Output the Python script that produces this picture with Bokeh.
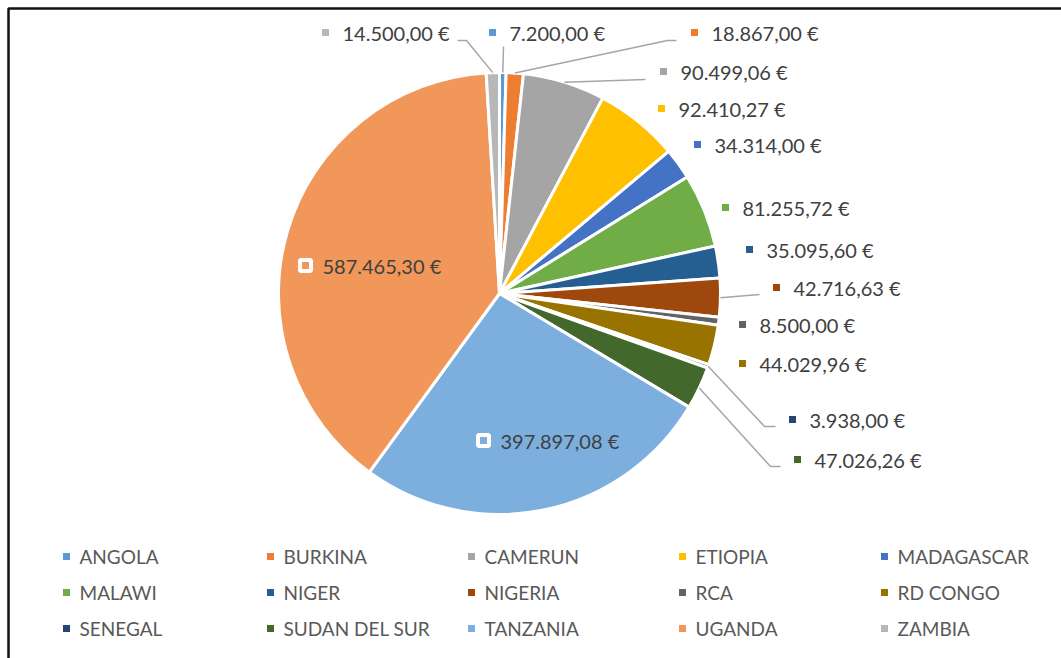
import math
from bokeh.plotting import figure
from bokeh.models import ColumnDataSource, Range1d
from bokeh.core.properties import value
from bokeh.embed import file_html
from bokeh.resources import INLINE

# ---------------- data ----------------
categories = ["ANGOLA", "BURKINA", "CAMERUN", "ETIOPIA", "MADAGASCAR",
              "MALAWI", "NIGER", "NIGERIA", "RCA", "RD CONGO",
              "SENEGAL", "SUDAN DEL SUR", "TANZANIA", "UGANDA", "ZAMBIA"]
amounts = [7200.00, 18867.00, 90499.06, 92410.27, 34314.00,
           81255.72, 35095.60, 42716.63, 8500.00, 44029.96,
           3938.00, 47026.26, 397897.08, 587465.30, 14500.00]
colors = ["#5B9BD5", "#ED7D31", "#A5A5A5", "#FFC000", "#4472C4",
          "#70AD47", "#255E91", "#9E480E", "#636363", "#997300",
          "#264478", "#43682B", "#7CAFDD", "#F1975A", "#B7B7B7"]

# ---------------- layout (canvas pixel coordinates, y downwards) ----------------
W, H = 1061, 658
CX, CY, R = 499, 293, 221
FRAME_X, FRAME_Y = 8, 8
label_pos = {
    "ZAMBIA": (325, 32), "ANGOLA": (492, 32), "BURKINA": (694, 32),
    "CAMERUN": (663, 71), "ETIOPIA": (661, 108), "MADAGASCAR": (697, 144),
    "MALAWI": (725, 207), "NIGER": (749, 249), "NIGERIA": (776, 287),
    "RCA": (742, 324), "RD CONGO": (742, 363), "SENEGAL": (792, 419),
    "SUDAN DEL SUR": (797, 459), "TANZANIA": (483, 440), "UGANDA": (305, 265),
}
leader_path = {
    "ZAMBIA": [(466, 40), (457, 40)],
    "ANGOLA": [(503, 46)],
    "BURKINA": [(667, 40), (676, 40)],
    "CAMERUN": [(645, 79)],
    "NIGERIA": [(759, 294)],
    "SENEGAL": [(764, 426), (775, 426)],
    "SUDAN DEL SUR": [(770, 466), (780, 466)],
}
legend_cols = [66, 270, 471, 682, 884]
legend_rows = [556, 592, 628]

def Y(y_img):
    return H - y_img

def fmt(v):
    s = f"{v:,.2f}"
    return s.replace(",", "X").replace(".", ",").replace("X", ".") + " €"

total = sum(amounts)
starts, ends, mids = [], [], []
cum = 0.0
for v in amounts:
    a0 = math.pi / 2 - 2 * math.pi * cum / total
    a1 = math.pi / 2 - 2 * math.pi * (cum + v) / total
    starts.append(a0)
    ends.append(a1)
    mids.append((a0 + a1) / 2)
    cum += v

p = figure(width=W, height=H, x_range=Range1d(0, W), y_range=Range1d(0, H),
           output_backend="svg", toolbar_location=None,
           x_axis_type=None, y_axis_type=None, min_border=0)
p.grid.visible = False
p.outline_line_color = None
p.background_fill_color = "white"
p.border_fill_color = "white"

# chart-area frame (top & left edges visible in the reference)
p.line(x=[FRAME_X, FRAME_X, W + 5], y=[Y(H + 5), Y(FRAME_Y), Y(FRAME_Y)],
       line_color="#111111", line_width=2.5)

pie = ColumnDataSource(dict(cat=categories, val=amounts, color=colors,
                            start=starts, end=ends,
                            x=[CX] * len(amounts), y=[Y(CY)] * len(amounts)))
p.wedge(x="x", y="y", radius=R, start_angle="start", end_angle="end",
        direction="clock", fill_color="color", line_color="white",
        line_width=3, source=pie)

# leader lines
lx, ly = [], []
for i, c in enumerate(categories):
    if c in leader_path:
        sx = CX + R * math.cos(mids[i])
        sy = Y(CY) + R * math.sin(mids[i])
        xs = [sx] + [pt[0] for pt in leader_path[c]]
        ys = [sy] + [Y(pt[1]) for pt in leader_path[c]]
        lx.append(xs)
        ly.append(ys)
p.multi_line(xs=lx, ys=ly, line_color="#A6A6A6", line_width=1.5)

# data labels
mx = [label_pos[c][0] for c in categories]
my = [Y(label_pos[c][1]) for c in categories]
lab = ColumnDataSource(dict(x=mx, y=my, tx=[v + 17 for v in mx], color=colors,
                            text=[fmt(v) for v in amounts]))
p.scatter(x="x", y="y", marker="square", size=11, fill_color="color",
          line_color="white", line_width=4, source=lab)
p.text(x="tx", y="y", text="text", text_font=value("Lato"), text_font_size="20px",
       text_color="#404040", text_align="left", text_baseline="middle", source=lab)

# legend
gx = [legend_cols[i % 5] for i in range(len(categories))]
gy = [Y(legend_rows[i // 5]) for i in range(len(categories))]
leg = ColumnDataSource(dict(x=gx, y=gy, tx=[v + 13 for v in gx], color=colors, text=categories))
p.scatter(x="x", y="y", marker="square", size=8, fill_color="color",
          line_color="white", line_width=1, source=leg)
p.text(x="tx", y="y", text="text", text_font=value("Lato"), text_font_size="19px",
       text_color="#595959", text_align="left", text_baseline="middle", source=leg)

open("out.html", "w").write(file_html(p, INLINE))
